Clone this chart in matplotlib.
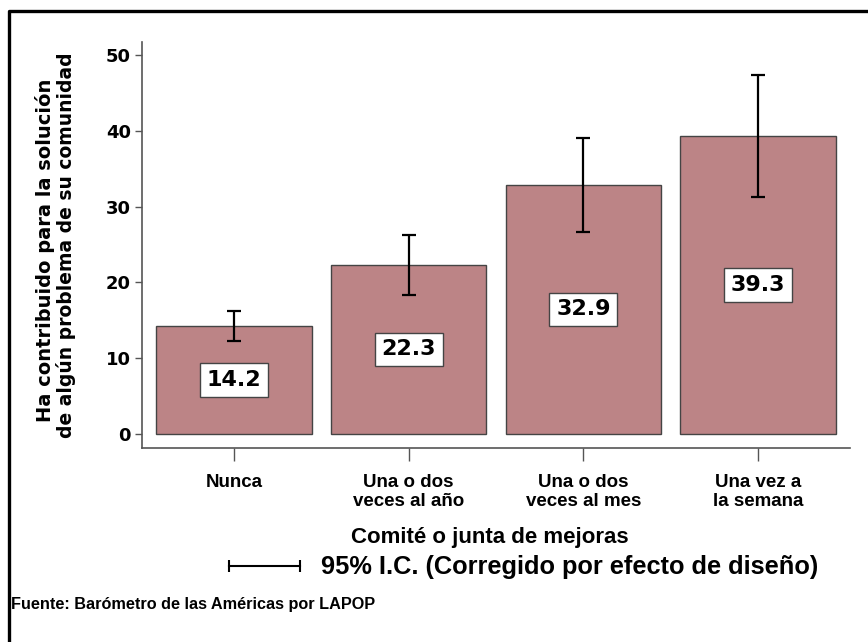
import matplotlib.pyplot as plt
from matplotlib.lines import Line2D

# datos: participación en comité o junta de mejoras
categorias = ['Nunca', 'Una o dos\nveces al año', 'Una o dos\nveces al mes', 'Una vez a\nla semana']
medias = [14.2, 22.3, 32.9, 39.3]
ic_inferior = [12.2, 18.3, 26.7, 31.3]
ic_superior = [16.2, 26.3, 39.1, 47.3]
y_ticks = [0, 10, 20, 30, 40, 50]

color_barra = '#bc8486'
gris = '#555555'
narrow = ['Liberation Sans', 'DejaVu Sans']
heavy = ['DejaVu Sans']

fig = plt.figure(figsize=(8.68, 6.42), dpi=100)
W, H = 868, 642


def fx(px):
    return px / W


def fy(py):
    return 1 - py / H


ax = fig.add_axes([fx(142), fy(448), fx(850) - fx(142), fy(42) - fy(448)])

x = list(range(len(categorias)))
ax.bar(x, medias, width=0.89, color=color_barra, edgecolor='#444444', linewidth=1.0, zorder=2)

yerr = [[m - lo for m, lo in zip(medias, ic_inferior)],
        [hi - m for m, hi in zip(medias, ic_superior)]]
ax.errorbar(x, medias, yerr=yerr, fmt='none', ecolor='black', elinewidth=1.6,
            capsize=5, capthick=1.6, zorder=3)

# etiquetas de valor en el centro de cada barra
for xi, m in zip(x, medias):
    ax.text(xi, m / 2, f'{m:.1f}', ha='center', va='center', fontsize=16,
            fontweight='bold', family=heavy, zorder=4,
            bbox=dict(boxstyle='square,pad=0.3', facecolor='white',
                      edgecolor='#444444', linewidth=1.0))

ax.set_xlim(-0.527, 3.527)
ax.set_ylim(-1.85, 51.7)
ax.set_yticks(y_ticks)
ax.set_yticklabels([str(t) for t in y_ticks], fontsize=13, fontweight='bold', family=heavy)
ax.set_xticks(x)
ax.set_xticklabels(categorias, fontsize=13.5, fontweight='bold', family=narrow, linespacing=1.1)
ax.tick_params(axis='y', length=5, color=gris, width=1.0, pad=3)
ax.tick_params(axis='x', length=9, color=gris, width=1.0, pad=10)

for lado in ['top', 'right']:
    ax.spines[lado].set_visible(False)
for lado in ['left', 'bottom']:
    ax.spines[lado].set_color(gris)
    ax.spines[lado].set_linewidth(1.2)

# título del eje y en dos líneas
fig.text(fx(45), fy(250), 'Ha contribuido para la solución', rotation=90,
         ha='center', va='center', fontsize=14, fontweight='bold', family=heavy)
fig.text(fx(66), fy(245), 'de algún problema de su comunidad', rotation=90,
         ha='center', va='center', fontsize=13.5, fontweight='bold', family=heavy)

fig.text(fx(490), fy(537), 'Comité o junta de mejoras', ha='center', va='center',
         fontsize=16, fontweight='bold', family=narrow)

# símbolo del intervalo de confianza
fig.add_artist(Line2D([fx(229), fx(300)], [fy(566), fy(566)], color='black', linewidth=1.5,
                      marker='|', markersize=9, markeredgewidth=1.5))
fig.text(fx(321), fy(567), '95% I.C. (Corregido por efecto de diseño)', ha='left', va='center',
         fontsize=18.3, fontweight='bold', family=narrow)

fig.text(fx(11), fy(604), 'Fuente: Barómetro de las Américas por LAPOP', ha='left', va='center',
         fontsize=11.7, fontweight='bold', family=narrow)

# marco superior e izquierdo
fig.add_artist(Line2D([fx(9), fx(9), 1.0], [0.0, fy(11), fy(11)], color='black', linewidth=2.4))

fig.savefig('out.png', dpi=100)
